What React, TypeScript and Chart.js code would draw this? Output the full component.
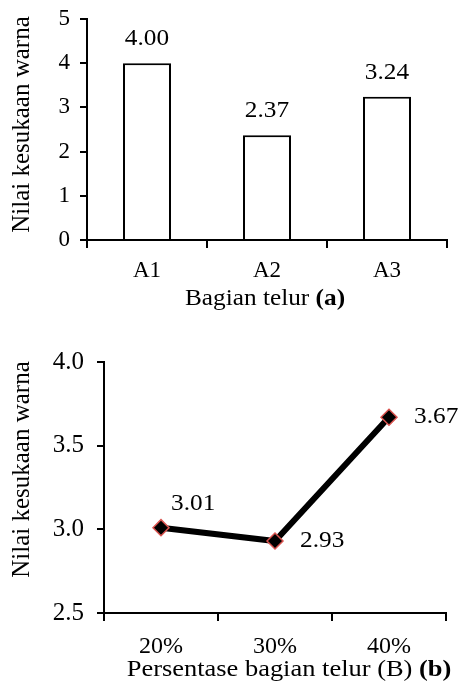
import React, { useEffect, useRef } from "react";
import { Chart, registerables } from "chart.js";

Chart.register(...registerables);

// ---- data ----
const barCategories = ["A1", "A2", "A3"];
const barValues = [4.0, 2.37, 3.24];
const barLabels = ["4.00", "2.37", "3.24"];
const barYTicks = [0, 1, 2, 3, 4, 5];

const lineCategories = ["20%", "30%", "40%"];
const lineValues = [3.01, 2.93, 3.67];
const lineLabels = ["3.01", "2.93", "3.67"];
const lineYTicks = [2.5, 3.0, 3.5, 4.0];

const yTitle = "Nilai kesukaan warna";
const xTitleA = [{ text: "Bagian telur ", bold: false }, { text: "(a)", bold: true }];
const xTitleB = [{ text: "Persentase bagian telur (B) ", bold: false }, { text: "(b)", bold: true }];

const FONT = "'Liberation Serif', 'Times New Roman', serif";

type Part = { text: string; bold: boolean };

function drawParts(ctx: CanvasRenderingContext2D, parts: Part[], cx: number, y: number, size: number, sx: number) {
  ctx.save();
  ctx.fillStyle = "#000";
  ctx.textBaseline = "alphabetic";
  ctx.textAlign = "left";
  let total = 0;
  const widths = parts.map((p) => {
    ctx.font = `${p.bold ? "bold " : ""}${size}px ${FONT}`;
    const w = ctx.measureText(p.text).width;
    total += w;
    return w;
  });
  ctx.translate(cx, y);
  ctx.scale(sx, 1);
  let x = -total / 2;
  parts.forEach((p, i) => {
    ctx.font = `${p.bold ? "bold " : ""}${size}px ${FONT}`;
    ctx.fillText(p.text, x, 0);
    x += widths[i];
  });
  ctx.restore();
}

function drawRotated(ctx: CanvasRenderingContext2D, text: string, cx: number, cy: number, size: number) {
  ctx.save();
  ctx.translate(cx, cy);
  ctx.rotate(-Math.PI / 2);
  ctx.font = `${size}px ${FONT}`;
  ctx.fillStyle = "#000";
  ctx.textAlign = "center";
  ctx.textBaseline = "middle";
  ctx.fillText(text, 0, 0);
  ctx.restore();
}

function drawLabel(ctx: CanvasRenderingContext2D, text: string, x: number, y: number, align: "left" | "center", baseline: CanvasTextBaseline, sx: number) {
  ctx.save();
  ctx.font = `23px ${FONT}`;
  ctx.fillStyle = "#000";
  ctx.textBaseline = baseline;
  const w = ctx.measureText(text).width;
  ctx.translate(x, y);
  ctx.scale(sx, 1);
  ctx.textAlign = "left";
  ctx.fillText(text, align === "center" ? -w / 2 : 0, 0);
  ctx.restore();
}

const axisCommon = {
  border: { color: "#000", width: 2 },
};

const noPad = (s: any) => {
  s.paddingTop = 0;
  s.paddingBottom = 0;
  s.paddingLeft = 0;
  s.paddingRight = 0;
};

function BarChart() {
  const ref = useRef<HTMLCanvasElement>(null);
  useEffect(() => {
    const chart = new Chart(ref.current!, {
      type: "bar",
      data: {
        labels: barCategories,
        datasets: [
          {
            data: barValues,
            backgroundColor: "#fff",
            borderColor: "#000",
            borderWidth: 2,
            categoryPercentage: 1,
            barPercentage: 0.4,
          },
        ],
      },
      options: {
        responsive: false,
        animation: false,
        events: [],
        layout: { padding: { top: 19, right: 13, left: 0, bottom: 38 } },
        plugins: { legend: { display: false }, tooltip: { enabled: false } },
        scales: {
          x: {
            ...axisCommon,
            offset: true,
            grid: { offset: true, drawOnChartArea: false, drawTicks: true, tickLength: 8, color: "#000", lineWidth: 2 },
            ticks: { color: "#000", font: { family: FONT, size: 23 }, padding: 9 },
            afterFit: (s: any) => { s.height = 42; noPad(s); },
          },
          y: {
            ...axisCommon,
            min: 0,
            max: 5,
            afterBuildTicks: (s: any) => { s.ticks = barYTicks.map((v) => ({ value: v })); },
            grid: { drawOnChartArea: false, drawTicks: true, tickLength: 7, color: "#000", lineWidth: 2 },
            ticks: { color: "#000", font: { family: FONT, size: 23 }, padding: 10, callback: (v: any) => String(v) },
            afterFit: (s: any) => { s.width = 87; noPad(s); },
          },
        },
      },
      plugins: [
        {
          id: "shadow",
          beforeDatasetsDraw: (c: any) => {
            c.ctx.save();
            c.ctx.shadowColor = "rgba(0,0,0,0.22)";
            c.ctx.shadowBlur = 5;
            c.ctx.shadowOffsetX = 1;
            c.ctx.shadowOffsetY = 1;
          },
          afterDatasetsDraw: (c: any) => {
            c.ctx.restore();
          },
        },
        {
          id: "texts",
          afterDraw: (c: any) => {
            const ctx = c.ctx as CanvasRenderingContext2D;
            const a = c.chartArea;
            c.getDatasetMeta(0).data.forEach((el: any, i: number) => {
              drawLabel(ctx, barLabels[i], el.x, el.y - 18, "center", "alphabetic", 1.1);
            });
            drawRotated(ctx, yTitle, 22, (a.top + a.bottom) / 2 - 5, 25);
            drawParts(ctx, xTitleA, (a.left + a.right) / 2 - 2, 305, 23, 1.1);
          },
        },
      ],
    } as any);
    return () => chart.destroy();
  }, []);
  return <canvas ref={ref} width={460} height={320} style={{ display: "block" }} />;
}

const lineLabelOffsets = [
  { dx: 10, dy: -24 },
  { dx: 25, dy: 0 },
  { dx: 25, dy: 0 },
];

function LineChart() {
  const ref = useRef<HTMLCanvasElement>(null);
  useEffect(() => {
    const chart = new Chart(ref.current!, {
      type: "line",
      data: {
        labels: lineCategories,
        datasets: [
          {
            data: lineValues,
            borderColor: "#000",
            borderWidth: 6,
            pointStyle: "rectRot",
            pointRadius: 8,
            pointBackgroundColor: "#000",
            pointBorderColor: "#d9534f",
            pointBorderWidth: 1.5,
            tension: 0,
          },
        ],
      },
      options: {
        responsive: false,
        animation: false,
        events: [],
        layout: { padding: { top: 42, right: 14, left: 0, bottom: 26 } },
        plugins: { legend: { display: false }, tooltip: { enabled: false } },
        scales: {
          x: {
            ...axisCommon,
            offset: true,
            grid: { offset: true, drawOnChartArea: false, drawTicks: true, tickLength: 8, color: "#000", lineWidth: 2 },
            ticks: { color: "#000", font: { family: FONT, size: 24 }, padding: 11 },
            afterFit: (s: any) => { s.height = 42; noPad(s); },
          },
          y: {
            ...axisCommon,
            min: 2.5,
            max: 4.0,
            afterBuildTicks: (s: any) => { s.ticks = lineYTicks.map((v) => ({ value: v })); },
            grid: { drawOnChartArea: false, drawTicks: true, tickLength: 7, color: "#000", lineWidth: 2 },
            ticks: { color: "#000", font: { family: FONT, size: 25 }, padding: 13, callback: (v: any) => Number(v).toFixed(1) },
            afterFit: (s: any) => { s.width = 104; noPad(s); },
          },
        },
      },
      plugins: [
        {
          id: "texts",
          afterDraw: (c: any) => {
            const ctx = c.ctx as CanvasRenderingContext2D;
            const a = c.chartArea;
            c.getDatasetMeta(0).data.forEach((el: any, i: number) => {
              const o = lineLabelOffsets[i];
              drawLabel(ctx, lineLabels[i], el.x + o.dx, el.y + o.dy, "left", "middle", 1.1);
            });
            drawRotated(ctx, yTitle, 22, (a.top + a.bottom) / 2 - 18, 25);
            drawParts(ctx, xTitleB, (a.left + a.right) / 2 + 14, 356, 23, 1.15);
          },
        },
      ],
    } as any);
    return () => chart.destroy();
  }, []);
  return <canvas ref={ref} width={460} height={361} style={{ display: "block" }} />;
}

export default function App() {
  return (
    <div style={{ position: "absolute", left: 0, top: 0, width: 460, height: 681, background: "#fff" }}>
      <div style={{ position: "absolute", left: 0, top: 0 }}>
        <BarChart />
      </div>
      <div style={{ position: "absolute", left: 0, top: 320 }}>
        <LineChart />
      </div>
    </div>
  );
}
